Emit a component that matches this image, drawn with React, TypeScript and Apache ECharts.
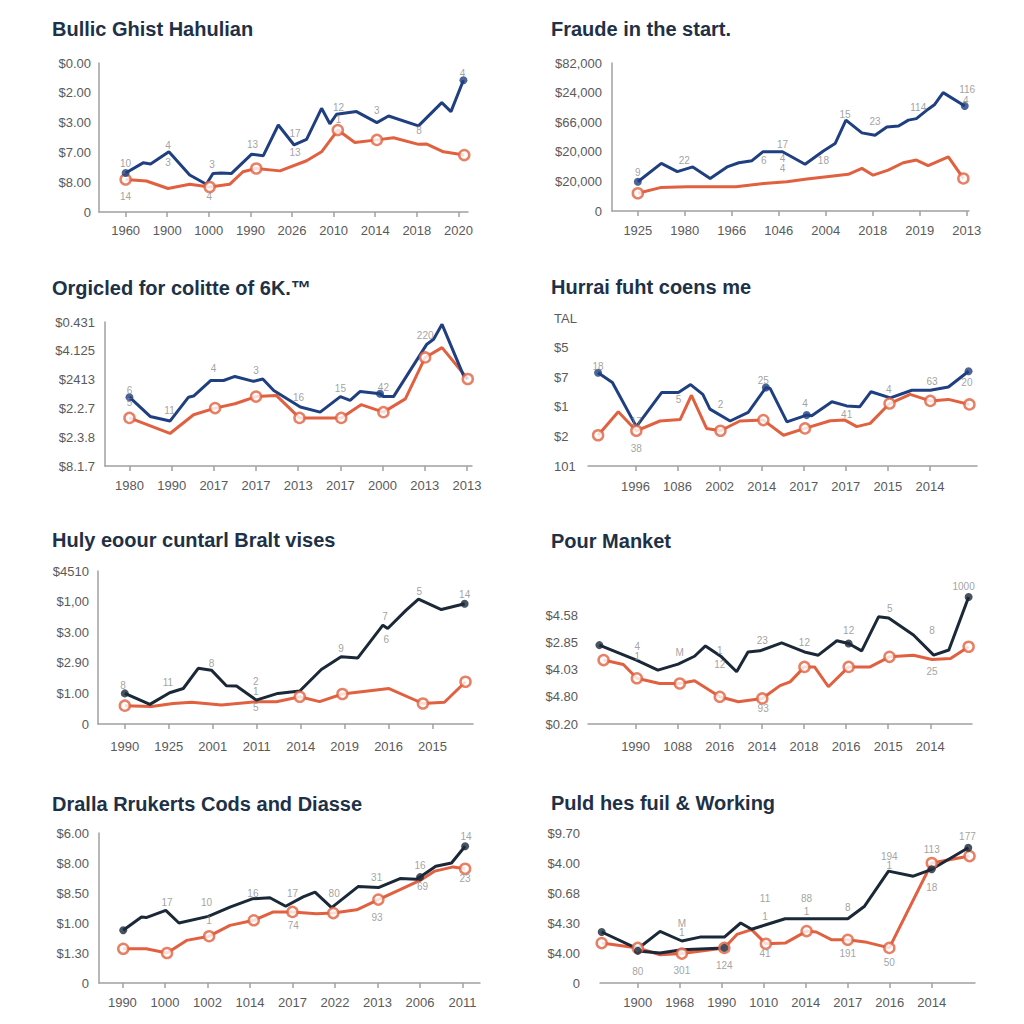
import React, { useEffect, useRef } from "react";
import * as echarts from "echarts";

// ---------------- data (axis units: x = category slot, y = tick step) ----------------
type P = [number, number];
type N = [number, number, string];

const title1 = "Bullic Ghist Hahulian";
const y1Labels = ["0", "$8.00", "$7.00", "$3.00", "$2.00", "$0.00"];
const x1Labels = ["1960", "1900", "1000", "1990", "2026", "2010", "2014", "2018", "2020"];
const blue1: P[] = [[0, 1.31], [0.42, 1.65], [0.6, 1.61], [1.04, 2.02], [1.54, 1.24], [1.94, 0.93], [2.1, 1.29], [2.3, 1.31], [2.54, 1.29], [3.03, 1.94], [3.31, 1.89], [3.67, 2.92], [4.05, 2.25], [4.35, 2.44], [4.71, 3.48], [4.91, 2.96], [5.07, 3.28], [5.55, 3.37], [6.04, 3.0], [6.32, 3.22], [7.04, 2.89], [7.6, 3.67], [7.82, 3.37], [8.12, 4.42]];
const orange1: P[] = [[0, 1.09], [0.5, 1.04], [1.02, 0.79], [1.54, 0.93], [2.02, 0.84], [2.5, 0.93], [2.82, 1.35], [3.14, 1.46], [3.71, 1.38], [4.35, 1.72], [4.71, 2.02], [5.1, 2.75], [5.51, 2.33], [6.04, 2.42], [6.44, 2.49], [7.04, 2.27], [7.24, 2.28], [7.64, 2.02], [8.14, 1.91]];
const dots1 = [0, 23];
const rings1 = [0, 4, 7, 11, 13, 18];
const notes1: N[] = [[0, 1.63, "10"], [0, 0.51, "14"], [1.02, 2.22, "4"], [1.02, 1.65, "3"], [2.08, 1.61, "3"], [2.01, 0.51, "4"], [3.05, 2.25, "13"], [4.07, 2.62, "17"], [4.07, 1.99, "13"], [5.12, 3.51, "12"], [5.12, 3.09, "1"], [6.04, 3.4, "3"], [7.05, 2.73, "8"], [8.1, 4.66, "4"]];

const title2 = "Fraude in the start.";
const y2Labels = ["0", "$20,000", "$20,000", "$66,000", "$24,000", "$82,000"];
const x2Labels = ["1925", "1980", "1966", "1046", "2004", "2018", "2019", "2013"];
const blue2: P[] = [[0, 0.99], [0.5, 1.61], [0.84, 1.33], [1.17, 1.49], [1.54, 1.1], [1.9, 1.49], [2.15, 1.63], [2.43, 1.7], [2.66, 2.0], [3.08, 2.0], [3.56, 1.58], [3.95, 2.03], [4.2, 2.28], [4.43, 3.07], [4.77, 2.64], [5.05, 2.56], [5.3, 2.84], [5.55, 2.87], [5.76, 3.07], [5.93, 3.12], [6.18, 3.44], [6.32, 3.6], [6.5, 4.0], [6.96, 3.55]];
const orange2: P[] = [[0, 0.6], [0.48, 0.79], [1.05, 0.82], [2.09, 0.82], [2.68, 0.93], [3.17, 0.99], [3.6, 1.08], [4.02, 1.16], [4.48, 1.24], [4.77, 1.44], [5.01, 1.21], [5.33, 1.38], [5.65, 1.63], [5.93, 1.72], [6.18, 1.53], [6.61, 1.83], [6.93, 1.1]];
const dots2 = [0, 23];
const rings2 = [0, 16];
const notes2: N[] = [[0, 1.3, "9"], [0.99, 1.72, "22"], [2.68, 1.72, "6"], [3.08, 2.25, "17"], [3.08, 1.78, "4"], [3.08, 1.44, "4"], [3.95, 1.72, "18"], [4.41, 3.27, "15"], [5.05, 3.01, "23"], [5.97, 3.49, "114"], [7.01, 4.12, "116"], [6.98, 3.74, "4"]];

const title3 = "Orgicled for colitte of 6K.\u2122";
const y3Labels = ["$8.1.7", "$2.3.8", "$2.2.7", "$2413", "$4.125", "$0.431"];
const x3Labels = ["1980", "1990", "2017", "2017", "2013", "2017", "2000", "2013", "2013"];
const blue3: P[] = [[0, 2.39], [0.49, 1.72], [0.96, 1.56], [1.4, 2.39], [1.52, 2.43], [1.93, 2.97], [2.23, 2.97], [2.5, 3.11], [2.94, 2.94], [3.16, 3.02], [3.42, 2.62], [4.05, 2.05], [4.52, 1.87], [5.0, 2.41], [5.23, 2.28], [5.47, 2.59], [5.94, 2.51], [6.02, 2.41], [6.26, 2.41], [7.05, 4.23], [7.21, 4.4], [7.41, 4.92], [7.92, 3.14], [8.02, 3.02]];
const orange3: P[] = [[0, 1.67], [0.96, 1.13], [1.52, 1.78], [2.03, 2.01], [2.5, 2.16], [3.0, 2.41], [3.48, 2.45], [4.03, 1.67], [5.02, 1.67], [5.49, 2.13], [6.02, 1.87], [6.54, 2.33], [7.01, 3.77], [7.41, 4.11], [8.02, 3.02]];
const dots3 = [0, 16];
const rings3 = [0, 3, 5, 7, 8, 10, 12, 14];
const notes3: N[] = [[0, 2.62, "6"], [0, 2.22, "5"], [0.95, 1.91, "11"], [1.99, 3.37, "4"], [3.0, 3.33, "3"], [4.01, 2.37, "16"], [5.0, 2.68, "15"], [6.02, 2.71, "42"], [7.01, 4.54, "220"]];

const title4 = "Hurrai fuht coens me";
const y4Labels = ["101", "$2", "$1", "$7", "$5", "TAL"];
const x4Labels = ["1996", "1086", "2002", "2014", "2017", "2017", "2015", "2014"];
const blue4: P[] = [[-0.89, 3.15], [-0.55, 2.82], [0.02, 1.33], [0.62, 2.48], [1.02, 2.48], [1.31, 2.75], [1.6, 2.42], [1.77, 1.92], [2.25, 1.52], [2.68, 1.81], [3.1, 2.65], [3.2, 2.62], [3.6, 1.49], [4.07, 1.72], [4.19, 1.7], [4.67, 2.17], [5.02, 2.03], [5.33, 2.0], [5.6, 2.51], [6.06, 2.3], [6.57, 2.56], [7.01, 2.56], [7.44, 2.67], [7.92, 3.2]];
const orange4: P[] = [[-0.89, 1.04], [-0.41, 1.83], [0.02, 1.19], [0.58, 1.52], [1.06, 1.57], [1.33, 2.39], [1.69, 1.27], [2.02, 1.19], [2.48, 1.52], [3.04, 1.55], [3.52, 1.04], [4.03, 1.27], [4.63, 1.53], [4.98, 1.55], [5.26, 1.33], [5.58, 1.44], [6.04, 2.11], [6.53, 2.42], [7.01, 2.2], [7.44, 2.25], [7.94, 2.08]];
const dots4 = [0, 10, 13, 23];
const rings4 = [0, 2, 7, 9, 11, 16, 18, 20];
const notes4: N[] = [[-0.89, 3.35, "18"], [0.02, 1.49, "17"], [0.02, 0.6, "38"], [1.02, 2.26, "5"], [2.02, 2.08, "2"], [3.04, 2.9, "25"], [4.03, 2.11, "4"], [5.02, 1.74, "41"], [6.02, 2.6, "4"], [7.05, 2.84, "63"], [7.88, 2.82, "20"]];

const title5 = "Huly eoour cuntarl Bralt vises";
const y5Labels = ["0", "$1.00", "$2.90", "$3.00", "$1,00", "$4510"];
const x5Labels = ["1990", "1925", "2001", "2011", "2014", "2019", "2016", "2015"];
const blue5: P[] = [[0, 1.0], [0.57, 0.64], [1.02, 1.02], [1.33, 1.16], [1.67, 1.82], [1.97, 1.76], [2.31, 1.25], [2.54, 1.24], [2.99, 0.78], [3.48, 1.0], [3.98, 1.08], [4.47, 1.78], [4.92, 2.2], [5.3, 2.16], [5.87, 3.23], [5.98, 3.12], [6.4, 3.72], [6.68, 4.08], [7.2, 3.74], [7.73, 3.93]];
const orange5: P[] = [[0, 0.6], [0.61, 0.57], [1.1, 0.67], [1.52, 0.71], [2.2, 0.62], [2.99, 0.73], [3.45, 0.73], [3.98, 0.89], [4.43, 0.73], [4.95, 0.98], [6.01, 1.16], [6.78, 0.67], [7.27, 0.71], [7.75, 1.38]];
const dots5 = [0, 19];
const rings5 = [0, 7, 9, 11, 13];
const notes5: N[] = [[-0.04, 1.27, "8"], [0.98, 1.35, "11"], [1.97, 1.98, "8"], [2.98, 1.38, "2"], [2.98, 1.05, "1"], [2.98, 0.54, "5"], [4.92, 2.47, "9"], [5.92, 3.5, "7"], [5.95, 2.77, "6"], [6.7, 4.32, "5"], [7.73, 4.24, "14"]];

const title6 = "Pour Manket";
const y6Labels = ["$0.20", "$4.80", "$4.03", "$2.85", "$4.58"];
const x6Labels = ["1990", "1088", "2016", "2014", "2018", "2016", "2015", "2014"];
const blue6: P[] = [[-0.86, 2.9], [0.02, 2.35], [0.53, 1.98], [1.01, 2.2], [1.4, 2.49], [1.66, 2.87], [2.04, 2.47], [2.4, 1.92], [2.67, 2.65], [2.95, 2.69], [3.47, 2.98], [4.01, 2.65], [4.34, 2.53], [4.78, 3.06], [5.06, 2.96], [5.37, 2.69], [5.77, 3.94], [6.01, 3.9], [6.6, 3.27], [7.08, 2.53], [7.44, 2.72], [7.91, 4.67]];
const orange6: P[] = [[-0.76, 2.35], [-0.29, 2.19], [0.03, 1.68], [0.57, 1.49], [1.05, 1.49], [1.4, 1.59], [2.0, 1.0], [2.44, 0.82], [3.01, 0.94], [3.43, 1.41], [3.67, 1.55], [4.01, 2.1], [4.25, 2.1], [4.58, 1.37], [5.06, 2.1], [5.57, 2.1], [6.03, 2.47], [6.6, 2.53], [7.04, 2.37], [7.48, 2.41], [7.91, 2.84]];
const dots6 = [0, 14, 21];
const rings6 = [0, 2, 4, 6, 8, 11, 14, 16, 20];
const notes6: N[] = [[0.04, 2.84, "4"], [0.04, 2.47, "1"], [1.05, 2.63, "M"], [2.0, 2.72, "1"], [2.0, 2.19, "12"], [3.01, 3.08, "23"], [4.01, 2.98, "12"], [5.06, 3.45, "12"], [6.04, 4.24, "5"], [7.04, 3.45, "8"], [7.04, 1.93, "25"], [3.03, 0.57, "93"], [7.79, 5.04, "1000"]];

const title7 = "Dralla Rrukerts Cods and Diasse";
const y7Labels = ["0", "$1.30", "$1.00", "$8.50", "$8.00", "$6.00"];
const x7Labels = ["1990", "1000", "1002", "1014", "2017", "2022", "2013", "2006", "2011"];
const blue7: P[] = [[0.02, 1.76], [0.45, 2.2], [0.56, 2.18], [1.02, 2.42], [1.33, 2.0], [2.02, 2.22], [2.53, 2.53], [3.07, 2.81], [3.47, 2.84], [3.84, 2.56], [4.25, 2.87], [4.53, 3.03], [4.92, 2.51], [5.55, 3.22], [6.02, 3.18], [6.53, 3.48], [6.92, 3.46], [7.0, 3.53], [7.37, 3.89], [7.74, 4.0], [8.06, 4.56]];
const orange7: P[] = [[0.02, 1.14], [0.56, 1.14], [1.05, 1.0], [1.51, 1.42], [2.04, 1.56], [2.53, 1.92], [3.09, 2.09], [3.55, 2.37], [4.0, 2.37], [4.56, 2.31], [4.96, 2.33], [5.51, 2.44], [6.02, 2.78], [6.53, 3.11], [7.0, 3.42], [7.35, 3.73], [7.78, 3.87], [8.06, 3.81]];
const dots7 = [0, 17, 20];
const rings7 = [0, 2, 4, 6, 8, 10, 12, 17];
const notes7: N[] = [[1.05, 2.67, "17"], [1.98, 2.7, "10"], [2.04, 2.07, "1"], [3.07, 2.98, "16"], [4.0, 2.97, "17"], [4.98, 2.98, "80"], [4.02, 1.92, "74"], [5.98, 3.51, "31"], [5.99, 2.2, "93"], [7.0, 3.92, "16"], [7.06, 3.22, "69"], [8.08, 4.89, "14"], [8.06, 3.5, "23"]];

const title8 = "Puld hes fuil & Working";
const y8Labels = ["0", "$4.00", "$4.30", "$0.68", "$4.00", "$9.70"];
const x8Labels = ["1900", "1968", "1990", "1010", "2014", "2017", "2016", "2014"];
const blue8: P[] = [[-0.86, 1.7], [0, 1.14], [0.53, 1.72], [1.05, 1.4], [1.48, 1.53], [2.06, 1.53], [2.45, 2.0], [2.71, 1.79], [3.05, 1.94], [3.51, 2.14], [4.02, 2.14], [5.0, 2.14], [5.4, 2.56], [5.97, 3.73], [6.56, 3.56], [7.0, 3.79], [7.87, 4.51]];
const blue8b: P[] = [[0, 1.07], [0.53, 1.0], [1.05, 1.11], [2.06, 1.17]];
const orange8: P[] = [[-0.86, 1.33], [0, 1.17], [0.53, 0.94], [1.05, 0.98], [2.06, 1.17], [2.36, 1.62], [2.71, 1.78], [3.05, 1.31], [3.51, 1.33], [4.02, 1.73], [4.25, 1.7], [4.62, 1.44], [5.0, 1.44], [5.41, 1.37], [5.99, 1.17], [7.0, 4.0], [7.9, 4.23]];
const dots8 = [0, 15, 16];
const dots8b = [0, 3];
const rings8 = [0, 1, 3, 4, 7, 9, 12, 14, 15, 16];
const notes8: N[] = [[0, 0.37, "80"], [1.05, 0.42, "301"], [2.06, 0.59, "124"], [1.05, 2.0, "M"], [1.05, 1.7, "1"], [3.03, 2.81, "11"], [3.03, 2.22, "1"], [4.02, 2.81, "88"], [4.02, 2.39, "1"], [5.0, 2.53, "8"], [3.03, 1.0, "41"], [5.0, 1.0, "191"], [5.99, 4.22, "194"], [5.99, 3.92, "1"], [5.99, 0.67, "50"], [7.0, 4.44, "113"], [7.0, 3.18, "18"], [7.85, 4.89, "177"]];

// ---------------- styles / layout ----------------
const BLUE = "#1f3f80";
const NAVY = "#1a2838";
const ORANGE = "#e1603f";
const AXIS = "#a0a0a0";
const LABEL = "#5a5a5a";
const NOTE = "#8a8a8a";
const TITLE = "#1e3146";
const FONT = "'Liberation Sans', Arial, sans-serif";

interface Panel {
  title: string;
  yLabels: string[];
  xLabels: string[];
  darks: { pts: P[]; dots: number[] }[];
  orange: P[];
  rings: number[];
  notes: N[];
}

const panels: Panel[] = [
  { title: title1, yLabels: y1Labels, xLabels: x1Labels, darks: [{ pts: blue1, dots: dots1 }], orange: orange1, rings: rings1, notes: notes1 },
  { title: title2, yLabels: y2Labels, xLabels: x2Labels, darks: [{ pts: blue2, dots: dots2 }], orange: orange2, rings: rings2, notes: notes2 },
  { title: title3, yLabels: y3Labels, xLabels: x3Labels, darks: [{ pts: blue3, dots: dots3 }], orange: orange3, rings: rings3, notes: notes3 },
  { title: title4, yLabels: y4Labels, xLabels: x4Labels, darks: [{ pts: blue4, dots: dots4 }], orange: orange4, rings: rings4, notes: notes4 },
  { title: title5, yLabels: y5Labels, xLabels: x5Labels, darks: [{ pts: blue5, dots: dots5 }], orange: orange5, rings: rings5, notes: notes5 },
  { title: title6, yLabels: y6Labels, xLabels: x6Labels, darks: [{ pts: blue6, dots: dots6 }], orange: orange6, rings: rings6, notes: notes6 },
  { title: title7, yLabels: y7Labels, xLabels: x7Labels, darks: [{ pts: blue7, dots: dots7 }], orange: orange7, rings: rings7, notes: notes7 },
  { title: title8, yLabels: y8Labels, xLabels: x8Labels, darks: [{ pts: blue8, dots: dots8 }, { pts: blue8b, dots: dots8b }], orange: orange8, rings: rings8, notes: notes8 },
];

const layouts = [
  { left: 99, top: 63, width: 369, height: 149, xMin: -0.64, xMax: 8.23, yLine: true, yAlign: "right", yMargin: 8, xMargin: 12, tx: 52, ty: 19, color: BLUE },
  { left: 612, top: 63, width: 357, height: 148, xMin: -0.55, xMax: 7.05, yLine: true, yAlign: "right", yMargin: 10, xMargin: 13, tx: 551, ty: 19, color: BLUE },
  { left: 105, top: 322, width: 367, height: 144, xMin: -0.58, xMax: 8.12, yLine: true, yAlign: "right", yMargin: 10, xMargin: 13, tx: 52, ty: 278, color: BLUE },
  { left: 588, top: 318, width: 389, height: 148, xMin: -1.13, xMax: 8.12, yLine: false, yAlign: "left", yMargin: 34, xMargin: 14, tx: 551, ty: 277, color: BLUE },
  { left: 98, top: 571, width: 375, height: 153, xMin: -0.61, xMax: 7.92, yLine: true, yAlign: "right", yMargin: 9, xMargin: 16, tx: 52, ty: 530, color: NAVY },
  { left: 588, top: 588, width: 384, height: 136, xMin: -1.13, xMax: 7.99, yLine: false, yAlign: "right", yMargin: 10, xMargin: 16, tx: 551, ty: 531, color: NAVY },
  { left: 99, top: 833, width: 381, height: 150, xMin: -0.55, xMax: 8.41, yLine: true, yAlign: "right", yMargin: 10, xMargin: 13, tx: 52, ty: 794, color: NAVY },
  { left: 600, top: 833, width: 375, height: 150, xMin: -0.9, xMax: 8.03, yLine: false, yAlign: "right", yMargin: 20, xMargin: 13, tx: 551, ty: 793, color: NAVY },
];

function buildOption() {
  const grid: any[] = [];
  const xAxis: any[] = [];
  const yAxis: any[] = [];
  const series: any[] = [];
  const title: any[] = [];

  panels.forEach((p, i) => {
    const L = layouts[i];
    grid.push({ left: L.left, top: L.top, width: L.width, height: L.height, containLabel: false });
    title.push({
      text: p.title,
      left: L.tx,
      top: L.ty,
      padding: 0,
      textStyle: { fontSize: 20, fontWeight: "bold", color: TITLE, fontFamily: FONT },
    });
    const ticks = p.xLabels.map((_, k) => k);
    xAxis.push({
      type: "value",
      gridIndex: i,
      min: L.xMin,
      max: L.xMax,
      splitLine: { show: false },
      axisLine: { show: true, onZero: false, lineStyle: { color: AXIS, width: 1.5 } },
      axisTick: { show: true, customValues: ticks, length: 5, lineStyle: { color: AXIS, width: 1.5 } },
      axisLabel: {
        customValues: ticks,
        formatter: (v: number) => p.xLabels[Math.round(v)] ?? "",
        color: LABEL,
        fontSize: 13,
        fontFamily: FONT,
        margin: L.xMargin,
      },
    });
    yAxis.push({
      type: "value",
      gridIndex: i,
      min: 0,
      max: 5,
      interval: 1,
      splitLine: { show: false },
      axisLine: { show: L.yLine, onZero: false, lineStyle: { color: AXIS, width: 1.5 } },
      axisTick: { show: false },
      axisLabel: {
        formatter: (v: number) => p.yLabels[Math.round(v)] ?? "",
        color: LABEL,
        fontSize: 13,
        fontFamily: FONT,
        margin: L.yMargin,
        align: L.yAlign,
      },
    });

    series.push({
      type: "line",
      xAxisIndex: i,
      yAxisIndex: i,
      data: p.orange,
      symbol: "none",
      lineStyle: { color: ORANGE, width: 3 },
      z: 2,
    });
    series.push({
      type: "scatter",
      xAxisIndex: i,
      yAxisIndex: i,
      data: p.rings.map((k) => p.orange[k]),
      symbol: "circle",
      symbolSize: 10,
      itemStyle: { color: "#ffffff", borderColor: ORANGE, borderWidth: 2.5 },
      z: 4,
    });
    p.darks.forEach((d) => {
      series.push({
        type: "line",
        xAxisIndex: i,
        yAxisIndex: i,
        data: d.pts,
        symbol: "none",
        lineStyle: { color: L.color, width: 3 },
        z: 3,
      });
      series.push({
        type: "scatter",
        xAxisIndex: i,
        yAxisIndex: i,
        data: d.dots.map((k) => d.pts[k]),
        symbol: "circle",
        symbolSize: 8,
        itemStyle: { color: L.color },
        z: 5,
      });
    });
    series.push({
      type: "scatter",
      xAxisIndex: i,
      yAxisIndex: i,
      clip: false,
      data: p.notes.map((n) => ({ name: n[2], value: [n[0], n[1]] })),
      symbol: "circle",
      symbolSize: 1,
      itemStyle: { color: "rgba(0,0,0,0)" },
      label: {
        show: true,
        position: "inside",
        formatter: "{b}",
        color: NOTE,
        fontSize: 10,
        fontFamily: FONT,
      },
      z: 6,
    });
  });

  return {
    animation: false,
    backgroundColor: "#ffffff",
    title,
    grid,
    xAxis,
    yAxis,
    series,
  };
}

export default function App() {
  const ref = useRef<HTMLDivElement>(null);
  useEffect(() => {
    if (!ref.current) return;
    const chart = echarts.init(ref.current, undefined, { renderer: "svg" });
    chart.setOption(buildOption() as any);
    return () => chart.dispose();
  }, []);
  return (
    <div
      ref={ref}
      style={{ position: "absolute", left: 0, top: 0, width: 1024, height: 1024, background: "#fff" }}
    />
  );
}
